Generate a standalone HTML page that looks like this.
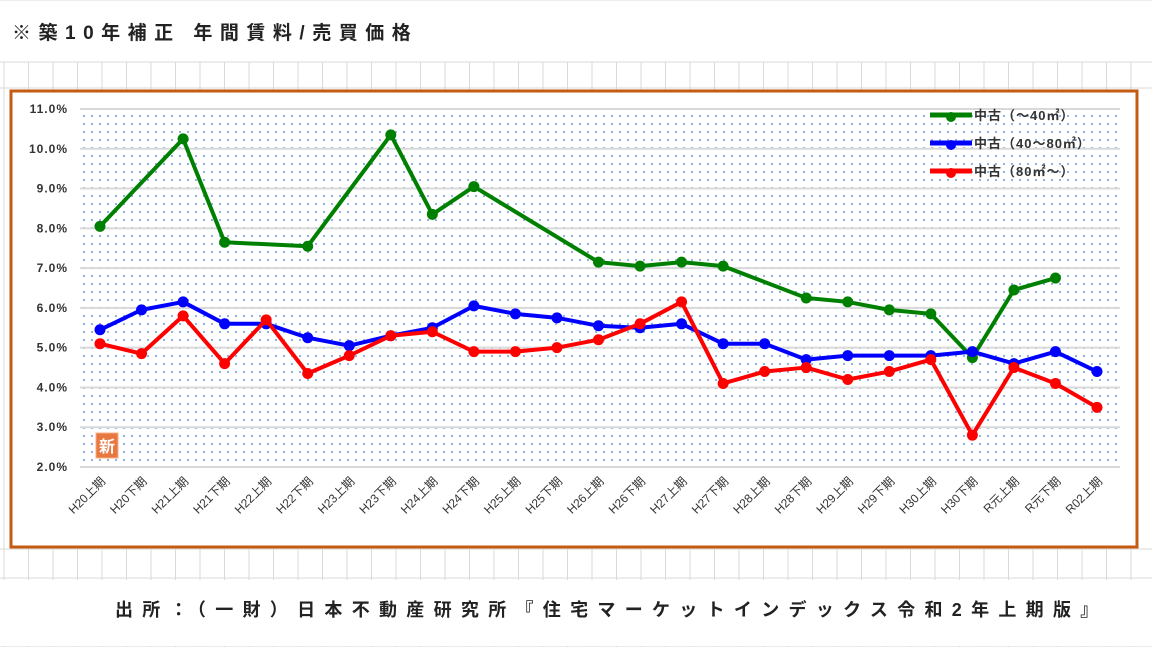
<!DOCTYPE html>
<html><head><meta charset="utf-8"><style>
html,body{margin:0;padding:0;background:#fff}
body{width:1152px;height:647px;overflow:hidden;font-family:"Liberation Sans","Noto Sans CJK JP",sans-serif}
</style></head><body>
<svg id="c" width="1152" height="647" viewBox="0 0 1152 647" xmlns="http://www.w3.org/2000/svg">
<defs>
<pattern id="dots" x="0" y="0" width="8" height="8" patternUnits="userSpaceOnUse">
<rect x="3" y="3" width="2" height="2" fill="#8fb4e3"/>
</pattern>
</defs>
<g id="sheet"></g>
<text x="12" y="39" font-size="19" font-weight="bold" fill="#222" letter-spacing="7.5">※築10年補正 年間賃料/売買価格</text>
<rect x="11" y="91" width="1126" height="456" fill="#fff" stroke="#c55a11" stroke-width="3"/>
<rect x="80" y="109" width="1040" height="358" fill="url(#dots)"/>
<g id="grid"></g>
<g id="yt"></g>
<g id="xt"></g>
<g id="series"></g>
<rect x="96" y="433" width="22" height="25" fill="#e97740" stroke="#f4b183"/>
<text x="107" y="452" font-size="16" font-weight="bold" fill="#fff" text-anchor="middle">新</text>
<g id="legend"></g>
<text x="115" y="616" font-size="18" font-weight="bold" fill="#222" letter-spacing="9.3">出所：（一財）日本不動産研究所『住宅マーケットインデックス令和2年上期版』</text>
</svg>
<script>
const categories=["H20上期","H20下期","H21上期","H21下期","H22上期","H22下期","H23上期","H23下期","H24上期","H24下期","H25上期","H25下期","H26上期","H26下期","H27上期","H27下期","H28上期","H28下期","H29上期","H29下期","H30上期","H30下期","R元上期","R元下期","R02上期"];
const small=[8.05,null,10.25,7.65,null,7.55,null,10.35,8.35,9.05,null,null,7.15,7.05,7.15,7.05,null,6.25,6.15,5.95,5.85,4.75,6.45,6.75,null];
const mid=[5.45,5.95,6.15,5.6,5.6,5.25,5.05,5.3,5.5,6.05,5.85,5.75,5.55,5.5,5.6,5.1,5.1,4.7,4.8,4.8,4.8,4.9,4.6,4.9,4.4];
const large=[5.1,4.85,5.8,4.6,5.7,4.35,4.8,5.3,5.4,4.9,4.9,5.0,5.2,5.6,6.15,4.1,4.4,4.5,4.2,4.4,4.7,2.8,4.5,4.1,3.5];
const yTicks=[2,3,4,5,6,7,8,9,10,11];
const seriesNames=["中古（～40㎡）","中古（40～80㎡）","中古（80㎡～）"];
const NS="http://www.w3.org/2000/svg";
function mk(t,a,p){const e=document.createElementNS(NS,t);for(const k in a)e.setAttribute(k,a[k]);p.appendChild(e);return e;}
const x=i=>100+i*(1097-100)/(categories.length-1);
const y=v=>467-(v-2)*(467-109)/9;
const sh=document.getElementById('sheet');
for(let gx=4;gx<1152;gx+=24.5){const l=mk('line',{x1:gx,x2:gx,y1:62,y2:647,stroke:'#d9d9d9','stroke-width':1},sh);
}
[0,62,88,549,578,647].forEach(gy=>{const l=mk('line',{x1:0,x2:1152,y1:gy,y2:gy,stroke:'#d9d9d9','stroke-width':1},sh);
});
const cover=mk('rect',{x:0,y:580,width:1152,height:66,fill:'#fff'},sh);

const g=document.getElementById('grid'),yt=document.getElementById('yt');
yTicks.forEach(v=>{const l=mk('line',{x1:80,x2:1120,y1:y(v),y2:y(v),stroke:'#d9d9d9','stroke-width':2},g);

const t=mk('text',{x:68,y:y(v)+4,'font-size':12,'font-weight':'bold',fill:'#333','text-anchor':'end','letter-spacing':1},yt);
t.textContent=v.toFixed(1)+'%';});
const xt=document.getElementById('xt');
categories.forEach((c,i)=>{const t=mk('text',{x:x(i)+6,y:482,'font-size':12,fill:'#333','text-anchor':'end',transform:`rotate(-45 ${x(i)+6} 482)`},xt);
t.textContent=c;});
const sg=document.getElementById('series');
[[small,'#008000','series-small'],[mid,'#0000ff','series-mid'],[large,'#ff0000','series-large']].forEach(([d,col,nm])=>{
const pts=[];d.forEach((v,i)=>{if(v!==null)pts.push([x(i),y(v)]);});
const pl=mk('polyline',{points:pts.map(p=>p.join(',')).join(' '),fill:'none',stroke:col,'stroke-width':4,'stroke-linejoin':'round'},sg);

pts.forEach(p=>{const c=mk('circle',{cx:p[0],cy:p[1],r:5.5,fill:col},sg);
});});
const lg=document.getElementById('legend');
['#008000','#0000ff','#ff0000'].forEach((col,i)=>{const yy=115+i*28;
const l=mk('line',{x1:930,x2:972,y1:yy,y2:yy,stroke:col,'stroke-width':5},lg);

const c=mk('circle',{cx:951,cy:yy+2,r:5,fill:col},lg);

const t=mk('text',{x:974,y:yy+5,'font-size':13,'font-weight':'bold',fill:'#333','letter-spacing':1},lg);
t.textContent=seriesNames[i];});
</script>
</body></html>
